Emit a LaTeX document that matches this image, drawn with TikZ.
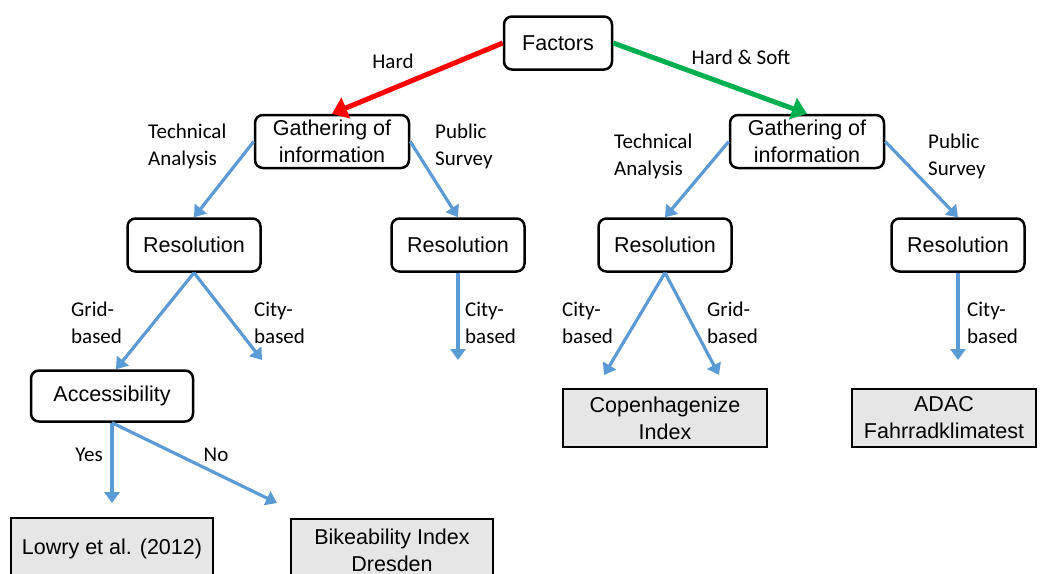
\documentclass[tikz,border=0pt]{standalone}
\usepackage{fontspec}
\setmainfont{Liberation Sans}
\newfontfamily\calfont{Carlito}
\usetikzlibrary{arrows.meta}
\definecolor{blueline}{RGB}{91,155,213}
\definecolor{redline}{RGB}{255,0,0}
\definecolor{greenline}{RGB}{0,176,80}
\definecolor{boxgray}{RGB}{230,230,230}
\begin{document}
\begin{tikzpicture}[x=1pt,y=-1pt,
  box/.style={draw=black, line width=2.5pt, rounded corners=8pt, fill=white, inner sep=0pt, align=center, font=\fontsize{21.5}{27}\selectfont},
  result/.style={box, rounded corners=0pt, fill=boxgray},
  lab/.style={font=\calfont\fontsize{21}{26.5}\selectfont, align=left, inner sep=0pt, anchor=west},
  clab/.style={font=\calfont\fontsize{21}{26.5}\selectfont, inner sep=0pt},
  barrow/.style={draw=blueline, line width=3.2pt, -{Triangle[length=11pt,width=15pt]}},
  rarrow/.style={draw=redline, line width=5pt, -{Triangle[length=15pt,width=22pt]}},
  garrow/.style={draw=greenline, line width=5pt, -{Triangle[length=15pt,width=22pt]}},
]
\useasboundingbox (0,0) rectangle (1043,573);

% nodes
\node[box, minimum width=108pt, minimum height=53pt] (f) at (558,43) {Factors};
\node[box, minimum width=154pt, minimum height=53pt] (gl) at (332,141.5) {Gathering of\\information};
\node[box, minimum width=154pt, minimum height=53pt] (gr) at (807,141.5) {Gathering of\\information};
\node[box, minimum width=133pt, minimum height=53pt] (rl1) at (194,245) {Resolution};
\node[box, minimum width=133pt, minimum height=53pt] (rl2) at (458,245) {Resolution};
\node[box, minimum width=133pt, minimum height=53pt] (rr1) at (665,245) {Resolution};
\node[box, minimum width=133pt, minimum height=53pt] (rr2) at (958,245) {Resolution};
\node[box, minimum width=162pt, minimum height=51pt] (acc) at (112,396) {Accessibility};
\node[result, minimum width=202pt, minimum height=62pt] (low) at (112,549) {Lowry et al. (2012)};
\node[result, minimum width=202pt, minimum height=62pt] (bik) at (392,550) {Bikeability Index\\Dresden};
\node[result, minimum width=204pt, minimum height=58pt] (cop) at (665,418) {Copenhagenize\\Index};
\node[result, minimum width=184pt, minimum height=58pt] (adac) at (944,418) {ADAC\\Fahrradklimatest};

% free arrow ends
\coordinate (c1) at (262,360);
\coordinate (c2) at (458,360);
\coordinate (c3) at (604,375);
\coordinate (c4) at (719,375);
\coordinate (c5) at (958,360);
\coordinate (c6) at (112,503);
\coordinate (c7) at (277,503);

% connectors
\draw[rarrow] (f.west) -- (gl.north);
\draw[garrow] (f.east) -- (gr.north);
\draw[barrow] (gl.west) -- (rl1.north);
\draw[barrow] (gl.east) -- (rl2.north);
\draw[barrow] (gr.west) -- (rr1.north);
\draw[barrow] (gr.east) -- (rr2.north);
\draw[barrow] (rl1.south) -- ([xshift=4pt]acc.north);
\draw[barrow] (rl1.south) -- (c1);
\draw[barrow] (rl2.south) -- (c2);
\draw[barrow] (rr1.south) -- (c3);
\draw[barrow] (rr1.south) -- (c4);
\draw[barrow] (rr2.south) -- (c5);
\draw[barrow] (acc.south) -- (c6);
\draw[barrow] (acc.south) -- (c7);

% labels
\node[clab] (lhard) at (393,61) {Hard};
\node[clab] (lhs) at (741,57) {Hard \& Soft};
\node[lab] (lta1) at (148,146.5) {Technical\\Analysis};
\node[lab] (lps1) at (435,146.5) {Public\\Survey};
\node[lab] (lta2) at (614,156.5) {Technical\\Analysis};
\node[lab] (lps2) at (928,156.5) {Public\\Survey};
\node[lab] (lg1) at (71,323) {Grid-\\based};
\node[lab] (lc1) at (254,323) {City-\\based};
\node[lab] (lc2) at (465,323) {City-\\based};
\node[lab] (lc3) at (562,323) {City-\\based};
\node[lab] (lg2) at (707,323) {Grid-\\based};
\node[lab] (lc4) at (967,323) {City-\\based};
\node[clab] (lyes) at (89,455) {Yes};
\node[clab] (lno) at (216,455) {No};
\end{tikzpicture}
\end{document}
